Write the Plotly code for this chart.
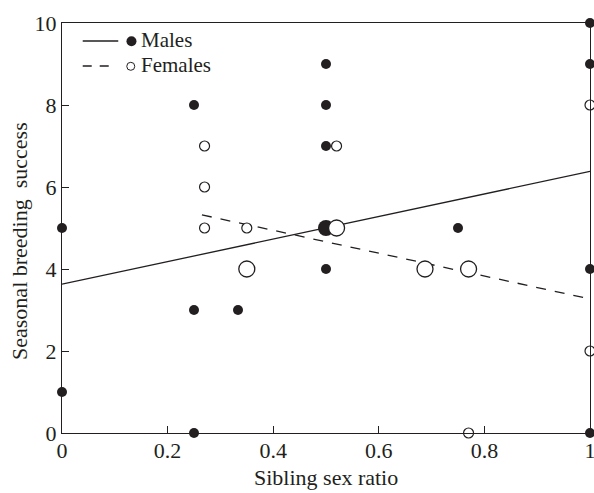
import plotly.graph_objects as go

# ---- data ----
male_x = [0, 0, 0.25, 0.25, 0.25, 1/3, 0.5, 0.5, 0.5, 0.5, 0.75, 1, 1, 1, 1]
male_y = [5, 1, 8, 3, 0, 3, 9, 8, 7, 4, 5, 10, 9, 4, 0]
male_big_x = [0.5]
male_big_y = [5]

female_x = [0.27, 0.27, 0.27, 0.35, 0.52, 0.77, 1, 1]
female_y = [7, 6, 5, 5, 7, 0, 8, 2]
female_big_x = [0.35, 0.52, 0.6875, 0.77]
female_big_y = [4, 5, 4, 4]

male_fit_x = [0, 1]
male_fit_y = [3.63, 6.38]
female_fit_x = [0.265, 1]
female_fit_y = [5.32, 3.27]

x_ticks = [0, 0.2, 0.4, 0.6, 0.8, 1]
x_ticklabels = ["0", "0.2", "0.4", "0.6", "0.8", "1"]
y_ticks = [0, 2, 4, 6, 8, 10]
y_ticklabels = ["0", "2", "4", "6", "8", "10"]

INK = "#231f20"
FONT = "Liberation Serif"
TS = 22

fig = go.Figure()
fig.add_trace(go.Scatter(x=male_fit_x, y=male_fit_y, mode="lines",
                         line=dict(color=INK, width=1.3), showlegend=False))
fig.add_trace(go.Scatter(x=female_fit_x, y=female_fit_y, mode="lines",
                         line=dict(color=INK, width=1.3, dash="10px,9px"), showlegend=False))
fig.add_trace(go.Scatter(x=male_x, y=male_y, mode="markers", cliponaxis=False,
                         marker=dict(size=10, color=INK, line=dict(width=0)), showlegend=False))
fig.add_trace(go.Scatter(x=male_big_x, y=male_big_y, mode="markers", cliponaxis=False,
                         marker=dict(size=16, color=INK, line=dict(width=0)), showlegend=False))
fig.add_trace(go.Scatter(x=female_x, y=female_y, mode="markers", cliponaxis=False,
                         marker=dict(size=10, color="white", line=dict(width=1.2, color=INK)), showlegend=False))
fig.add_trace(go.Scatter(x=female_big_x, y=female_big_y, mode="markers", cliponaxis=False,
                         marker=dict(size=16, color="white", line=dict(width=1.3, color=INK)), showlegend=False))

# ---- manual legend (paper coords) ----
def px2x(p):
    return (p - 62.3) / 527.5

def py2y(p):
    return (432.7 - p) / 410.0

shapes = [
    dict(type="line", xref="paper", yref="paper", x0=px2x(83), x1=px2x(118.5),
         y0=py2y(40.7), y1=py2y(40.7), line=dict(color=INK, width=1.3)),
    dict(type="line", xref="paper", yref="paper", x0=px2x(83), x1=px2x(110),
         y0=py2y(65.7), y1=py2y(65.7), line=dict(color=INK, width=1.3, dash="9px,8px")),
    dict(type="circle", xref="paper", yref="paper", xsizemode="pixel", ysizemode="pixel",
         xanchor=px2x(131.7), yanchor=py2y(41), x0=-5, x1=5, y0=-5, y1=5,
         fillcolor=INK, line=dict(width=0)),
    dict(type="circle", xref="paper", yref="paper", xsizemode="pixel", ysizemode="pixel",
         xanchor=px2x(131), yanchor=py2y(66), x0=-4, x1=4, y0=-4, y1=4,
         fillcolor="white", line=dict(width=1, color=INK)),
]

annotations = [
    dict(text="Males", x=px2x(139.5), y=py2y(40), xref="paper", yref="paper",
         xanchor="left", yanchor="middle", showarrow=False,
         font=dict(family=FONT, size=21, color=INK)),
    dict(text="Females", x=px2x(139), y=py2y(65), xref="paper", yref="paper",
         xanchor="left", yanchor="middle", showarrow=False,
         font=dict(family=FONT, size=21, color=INK)),
    dict(text="Sibling sex ratio", x=px2x(326.5), y=py2y(477), xref="paper", yref="paper",
         xanchor="center", yanchor="middle", showarrow=False,
         font=dict(family=FONT, size=TS, color=INK)),
    dict(text="Seasonal breeding\u00a0 success", x=px2x(20), y=py2y(241), xref="paper", yref="paper",
         xanchor="center", yanchor="middle", showarrow=False, textangle=-90,
         font=dict(family=FONT, size=TS, color=INK)),
]

fig.update_layout(
    width=594, height=493,
    margin=dict(l=62, r=4, t=23, b=60, autoexpand=False),
    plot_bgcolor="white", paper_bgcolor="white",
    shapes=shapes, annotations=annotations,
    font=dict(family=FONT, size=TS, color=INK),
)
fig.update_xaxes(range=[0, 1], tickvals=x_ticks, ticktext=x_ticklabels,
                 showgrid=False, zeroline=False, showline=True, linecolor=INK, linewidth=1.3,
                 mirror=True, ticks="inside", ticklen=7, tickwidth=1.2, tickcolor=INK,
                 ticklabeloverflow="allow", ticklabelstandoff=-3, automargin=False,
                 tickfont=dict(family=FONT, size=TS, color=INK))
fig.update_yaxes(range=[0, 10], tickvals=y_ticks, ticktext=y_ticklabels,
                 showgrid=False, zeroline=False, showline=True, linecolor=INK, linewidth=1.3,
                 mirror=True, ticks="inside", ticklen=7, tickwidth=1.2, tickcolor=INK,
                 automargin=False,
                 tickfont=dict(family=FONT, size=TS, color=INK))

fig.write_html("out.html", config={"displayModeBar": False},
               post_script="document.body.style.margin='0';document.body.style.overflow='hidden';")
